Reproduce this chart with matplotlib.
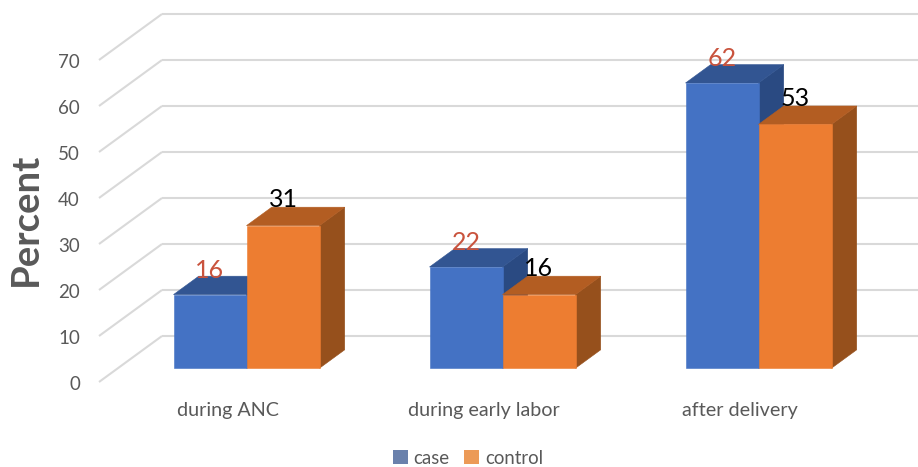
import matplotlib
matplotlib.use('Agg')
import matplotlib.pyplot as plt
from matplotlib.patches import Polygon, Patch

categories = ['during ANC', 'during early labor', 'after delivery']
case = [16, 22, 62]
control = [31, 16, 53]
series_names = ['case', 'control']
yticks = [0, 10, 20, 30, 40, 50, 60, 70]

plt.rcParams['font.family'] = ['Lato', 'DejaVu Sans']

W, H = 918, 467
PX_X = 256.0   # pixels per category
PX_Y = 4.6     # pixels per percent
X0, Y0 = 246.5, 382.0   # pixel position of data (0, 0)

depth_x = 63 / PX_X
depth_y = 10.0
left = (99 - X0) / PX_X
right = (W - X0) / PX_X
bar_w = 73.0 / PX_X

fig = plt.figure(figsize=(W / 100, H / 100), dpi=100)
ax = fig.add_axes([0, 0, 1, 1])
ax.set_xlim(-X0 / PX_X, right)
ax.set_ylim(-(H - Y0) / PX_Y, Y0 / PX_Y)
ax.axis('off')

grid_c = '#d9d9d9'
text_c = '#595959'

# walls and floor lines
for t in yticks[1:] + [80]:
    ax.plot([left, left + depth_x], [t - 10, t], color=grid_c, lw=1.5, zorder=1, solid_capstyle='butt')
    ax.plot([left + depth_x, right], [t, t], color=grid_c, lw=1.5, zorder=1, solid_capstyle='butt')
for t in yticks:
    ax.text(left - 19 / PX_X, t - 0.65, str(t), ha='right', va='center', fontsize=13.5, color=text_c)


def bar3d(x, v, front, top, side):
    # bar stands 30% into the floor depth and takes 40% of it
    y0 = 0.3 * depth_y
    ddx = 0.4 * depth_x
    ddy = 0.4 * depth_y
    kw = dict(closed=True, lw=0.4, zorder=3)
    ax.add_patch(Polygon([(x + bar_w, y0), (x + bar_w + ddx, y0 + ddy),
                          (x + bar_w + ddx, y0 + v + ddy), (x + bar_w, y0 + v)],
                         fc=side, ec=side, **kw))
    ax.add_patch(Polygon([(x, y0 + v), (x + ddx, y0 + v + ddy),
                          (x + bar_w + ddx, y0 + v + ddy), (x + bar_w, y0 + v)],
                         fc=top, ec=top, **kw))
    ax.add_patch(Polygon([(x, y0), (x + bar_w, y0), (x + bar_w, y0 + v), (x, y0 + v)],
                         fc=front, ec=front, **kw))


for i in range(len(categories)):
    bar3d(i - bar_w, case[i], '#4472c4', '#325592', '#2a4a82')
    bar3d(i, control[i], '#ed7d31', '#b35d22', '#96501c')
    ax.text(i - bar_w / 2, 3 + case[i] + 5.3, str(case[i]), ha='center', va='center',
            fontsize=18, color='#c9533d', zorder=5)
    ax.text(i + bar_w / 2, 3 + control[i] + 5.6, str(control[i]), ha='center', va='center',
            fontsize=18, color='black', zorder=5)
    ax.text(i - 0.3 * depth_x, -6.1, categories[i], ha='center', va='center',
            fontsize=14.2, color=text_c)

ax.text(26 / W, 1 - 219 / H, 'Percent', transform=ax.transAxes, rotation=90, ha='center', va='center',
        fontsize=27.5, fontweight='bold', color=text_c)

handles = [Patch(fc='#6a81ac', ec='none'), Patch(fc='#ec9a57', ec='none')]
ax.legend(handles, series_names, loc='center', bbox_to_anchor=(468 / W, 1 - 458 / H), ncol=2, frameon=False,
          fontsize=13.4, labelcolor=text_c, handlelength=0.8, handleheight=0.8,
          handletextpad=0.3, columnspacing=0.8, borderpad=0, borderaxespad=0)

fig.savefig('out.png', dpi=100)
